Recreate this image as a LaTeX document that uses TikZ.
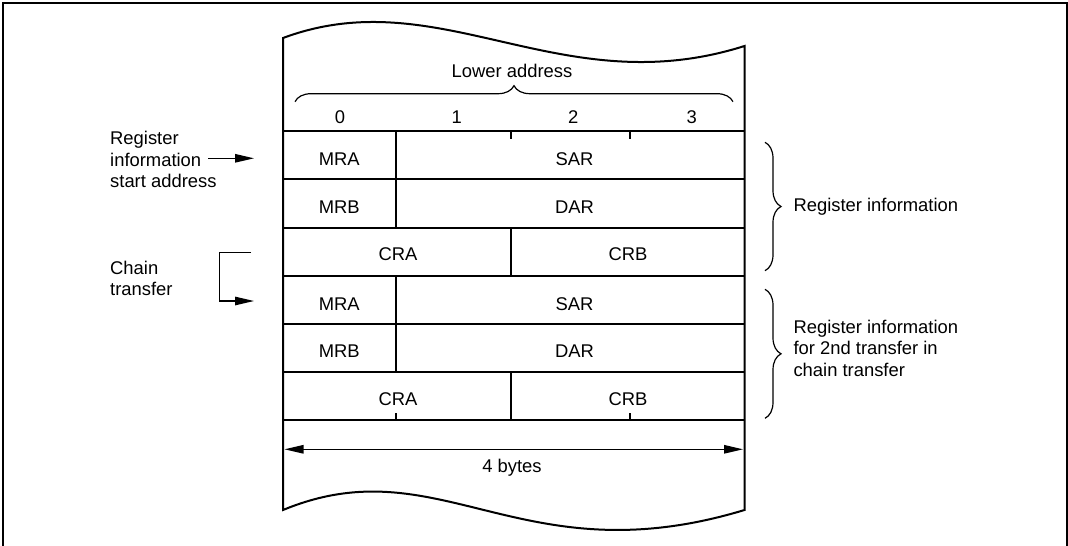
\documentclass[tikz,border=0pt]{standalone}
\usepackage{fontspec}
\setmainfont{Liberation Sans}
\usetikzlibrary{arrows.meta,decorations.pathreplacing}
\begin{document}
\begin{tikzpicture}[x=1pt,y=-1pt,
  txt/.style={font=\fontsize{18.4}{21.5}\selectfont, inner sep=0pt},
  frameline/.style={line width=2.2pt},
  boxline/.style={line width=2pt},
  thinline/.style={line width=1.2pt},
  brc/.style={decorate, decoration={brace, amplitude=16pt}, line width=1.2pt},
  tip/.tip={Triangle[length=19pt,width=8.5pt]},
  arr/.style={-tip, line width=1.2pt}]

\useasboundingbox (0,0) rectangle (1068,546);
% outer frame
\draw[frameline] (3,548) -- (3,3) -- (1067,3) -- (1067,548);

% memory box with wavy ends
\draw[boxline] (283,38) .. controls (440,-20.5) and (560,104.5) .. (744.5,46)
  -- (744.5,510) .. controls (520,578) and (440,445) .. (283,510) -- cycle;

% rows
\foreach \y in {131,179,227.5,276,324,372,420}
  \draw[boxline] (283,\y) -- (744.5,\y);
% column dividers
\draw[boxline] (396,131) -- (396,227.5);
\draw[boxline] (511,227.5) -- (511,276);
\draw[boxline] (396,276) -- (396,372);
\draw[boxline] (511,372) -- (511,420);
% byte ticks
\draw[boxline] (511,131) -- (511,139);
\draw[boxline] (630,131) -- (630,139);
\draw[boxline] (396,420) -- (396,413);
\draw[boxline] (630,420) -- (630,413);

% header
\node[txt, anchor=base] (lower) at (512,77.3) {Lower address};
\draw[brc] (295,101.7) -- (733,101.7);
\node[txt, anchor=base] (b0) at (340,123.3) {0};
\node[txt, anchor=base] (b1) at (456.7,123.3) {1};
\node[txt, anchor=base] (b2) at (573.3,123.3) {2};
\node[txt, anchor=base] (b3) at (691.7,123.3) {3};

% cell texts
\node[txt, anchor=base] (mra1) at (339.3,165.7) {MRA};
\node[txt, anchor=base] (sar1) at (574.5,165.7) {SAR};
\node[txt, anchor=base] (mrb1) at (339.3,213.3) {MRB};
\node[txt, anchor=base] (dar1) at (574.5,213.3) {DAR};
\node[txt, anchor=base] (cra1) at (398,260) {CRA};
\node[txt, anchor=base] (crb1) at (628,260) {CRB};
\node[txt, anchor=base] (mra2) at (339.3,310) {MRA};
\node[txt, anchor=base] (sar2) at (574.5,310) {SAR};
\node[txt, anchor=base] (mrb2) at (339.3,357.3) {MRB};
\node[txt, anchor=base] (dar2) at (574.5,357.3) {DAR};
\node[txt, anchor=base] (cra2) at (398,405) {CRA};
\node[txt, anchor=base] (crb2) at (628,405) {CRB};

% 4 bytes
\coordinate (wl) at (284.5,449.3);
\coordinate (wr) at (743,449.3);
\draw[tip-tip, thinline] (wl) -- (wr);
\node[txt, anchor=base] (four) at (512,472) {4 bytes};

% left labels (base anchor = last line)
\node[txt, anchor=base west, align=left] (startlbl) at (110,187.7)
  {Register\\information\\start address};
\coordinate (sa0) at (208,158.3);
\coordinate (sa1) at (254,158.3);
\draw[arr] (sa0) -- (sa1);

\node[txt, anchor=base west, align=left] (chainlbl) at (110,295.7)
  {Chain\\transfer};
\coordinate (ch0) at (251,252.7);
\coordinate (ch1) at (219.3,252.7);
\coordinate (ch2) at (219.3,301);
\coordinate (ch3) at (254,301);
\draw[arr] (ch0) -- (ch1) -- (ch2) -- (ch3);

% right braces
\draw[brc] (765,142.3) -- (765,270.7);
\node[txt, anchor=base west] (reginfo) at (793.3,211.7) {Register information};
\draw[brc] (765,289.3) -- (765,418.3);
\node[txt, anchor=base west, align=left] (reginfo2) at (793.3,376)
  {Register information\\for 2nd transfer in\\chain transfer};
\end{tikzpicture}
\end{document}
